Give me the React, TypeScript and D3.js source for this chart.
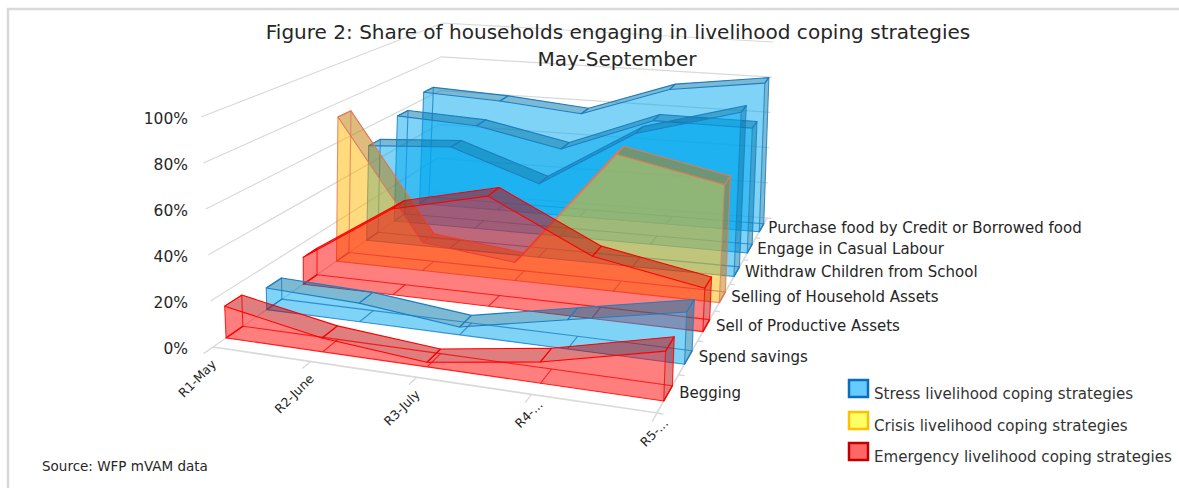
import React from "react";
import * as d3 from "d3";

type Pt = [number, number];

// categories and series, front of the chart first
const categories = ["R1-May", "R2-June", "R3-July", "R4-...", "R5-..."];
const seriesNames = [
  "Begging",
  "Spend savings",
  "Sell of Productive Assets",
  "Selling of Household Assets",
  "Withdraw Children from School",
  "Engage in Casual Labour",
  "Purchase food by Credit or Borrowed food",
];
const yTicks = [0, 20, 40, 60, 80, 100];

// share of households, %
const begging = [14, 6, 2, 9, 21];
const spendSavings = [10, 8.5, 3.5, 13, 23];
const sellProductive = [13, 41, 52, 29, 20];
const sellHousehold = [73, 14, 9, 67, 57];
const withdrawChildren = [50, 53, 38, 68, 83];
const casualLabour = [58, 56, 47, 66, 66];
const purchaseCredit = [64, 62, 58, 75, 82];

const seriesValues = [begging, spendSavings, sellProductive, sellHousehold, withdrawChildren, casualLabour, purchaseCredit];
const seriesGroup = ["emergency", "stress", "emergency", "crisis", "stress", "stress", "stress"];

const groupStyle: any = {
  stress: { fill: "#00a8f0", dark: "#0076a8", stroke: "#1c7fc4" },
  crisis: { fill: "#ffb800", dark: "#bc7c00", stroke: "#e0785a" },
  emergency: { fill: "#ff0000", dark: "#c00000", stroke: "#ff0000" },
};

const legendItems = [
  { label: "Stress livelihood coping strategies", fill: "#66ccff", stroke: "#0a6ebd", y: 380 },
  { label: "Crisis livelihood coping strategies", fill: "#ffff66", stroke: "#ffc000", y: 412 },
  { label: "Emergency livelihood coping strategies", fill: "#ff6666", stroke: "#c00000", y: 443 },
];

// box corners on screen: front-left, front-right, back-right, back-left
const floorCorners: Pt[] = [[213, 347], [657, 413], [767, 218], [436, 192]];
const topCorners: Pt[] = [[201, 117], [665, 172], [773, 42], [443, 23]];

// maps the unit square onto a screen quad (perspective)
function quadMap(q: Pt[]) {
  const [[x0, y0], [x1, y1], [x2, y2], [x3, y3]] = q;
  const dx1 = x1 - x2, dx2 = x3 - x2, sx = x0 - x1 + x2 - x3;
  const dy1 = y1 - y2, dy2 = y3 - y2, sy = y0 - y1 + y2 - y3;
  const den = dx1 * dy2 - dx2 * dy1;
  const g = (sx * dy2 - dx2 * sy) / den;
  const h = (dx1 * sy - sx * dy1) / den;
  const a = x1 - x0 + g * x1, b = x3 - x0 + h * x3;
  const d = y1 - y0 + g * y1, e = y3 - y0 + h * y3;
  return (u: number, v: number): Pt => {
    const w = g * u + h * v + 1;
    return [(a * u + b * v + x0) / w, (d * u + e * v + y0) / w];
  };
}

const floorMap = quadMap(floorCorners);
const topMap = quadMap(topCorners);

const xScale = d3.scalePoint<string>().domain(categories).range([0, 1]);
const zScale = d3.scaleBand<string>().domain(seriesNames).range([0, 1]).paddingInner(0.6).paddingOuter(0.3);
const yScale = d3.scaleLinear().domain([0, 100]).range([0, 1]);

const project = (u: number, v: number, value: number): Pt => {
  const f = floorMap(u, v);
  const t = topMap(u, v);
  const h = yScale(value);
  return [f[0] + (t[0] - f[0]) * h, f[1] + (t[1] - f[1]) * h];
};

const line = d3.line<Pt>();
const poly = (pts: Pt[]) => line(pts) + "Z";
const seg = (a: Pt, b: Pt) => line([a, b]) as string;

const GRID = "#d9d9d9";
const TEXT = "#262626";
const FONT = "'DejaVu Sans', Verdana, sans-serif";

function Series({ name, values, group }: { name: string; values: number[]; group: string }) {
  const st = groupStyle[group];
  const v0 = zScale(name) as number;
  const v1 = v0 + zScale.bandwidth();
  const us = categories.map((c) => xScale(c) as number);
  const last = us.length - 1;
  const front = us.map((u, i) => project(u, v0, values[i]));
  const back = us.map((u, i) => project(u, v1, values[i]));
  const baseF = us.map((u) => project(u, v0, 0));
  const baseB = us.map((u) => project(u, v1, 0));
  const floorPath = poly([...baseF, ...[...baseB].reverse()]);
  const frontPath = poly([...front, ...[...baseF].reverse()]);
  const backPath = poly([...back, ...[...baseB].reverse()]);
  const leftPath = poly([front[0], back[0], baseB[0], baseF[0]]);
  const rightPath = poly([front[last], back[last], baseB[last], baseF[last]]);
  const ribbons = us.slice(1).map((_, i) => poly([front[i], front[i + 1], back[i + 1], back[i]]));
  return (
    <g>
      {/* opaque faces, the whole series fades as one layer */}
      <g opacity={0.5}>
        <path d={floorPath} fill={st.fill} />
        <path d={backPath} fill={st.fill} />
        <path d={leftPath} fill={st.fill} />
        {ribbons.map((d, i) => (
          <path key={i} d={d} fill={st.dark} />
        ))}
        <path d={rightPath} fill={st.dark} />
        <path d={frontPath} fill={st.fill} />
      </g>
      {/* edges stay visible through the faces */}
      <g fill="none" stroke={st.stroke} strokeWidth={1.1} strokeLinejoin="round">
        <path d={floorPath} strokeOpacity={0.8} />
        {us.map((_, i) => (
          <path key={i} d={seg(baseF[i], baseB[i])} strokeOpacity={0.8} />
        ))}
        <path d={leftPath} strokeOpacity={0.8} />
        <path d={rightPath} strokeOpacity={0.8} />
        {ribbons.map((d, i) => (
          <path key={i} d={d} />
        ))}
      </g>
    </g>
  );
}

export default function App() {
  const zEdges = d3.range(seriesNames.length + 1).map((i) => i / seriesNames.length);
  return (
    <svg
      width={1179}
      height={488}
      style={{ position: "absolute", left: 0, top: 0, background: "#fff" }}
      fontFamily={FONT}
    >
      <path d="M8,488V9H1179" fill="none" stroke={GRID} strokeWidth={2.5} />

      {/* walls */}
      {yTicks.map((t) => (
        <g key={t} fill="none" stroke={GRID} strokeWidth={1.2}>
          <path d={line([project(0, 0, t), project(0, 1, t), project(1, 1, t)]) as string} />
        </g>
      ))}
      {/* floor edges and ticks */}
      <path d={line([project(0, 0, 0), project(1, 0, 0), project(1, 1, 0)]) as string} fill="none" stroke={GRID} strokeWidth={1.6} />
      {categories.map((c) => {
        const u = xScale(c) as number;
        return <path key={c} d={seg(project(u, 0, 0), project(u, -0.03, 0))} stroke={GRID} strokeWidth={1.4} />;
      })}
      {zEdges.map((v) => (
        <path key={v} d={seg(project(1, v, 0), project(1.012, v, 0))} stroke={GRID} strokeWidth={1.4} />
      ))}

      {/* series, back to front */}
      {seriesNames
        .map((name, i) => <Series key={name} name={name} values={seriesValues[i]} group={seriesGroup[i]} />)
        .reverse()}

      {/* axis labels */}
      {yTicks.map((t) => {
        const p = project(0, 0, t);
        return (
          <text key={t} x={188} y={p[1] + 6.5} textAnchor="end" fontSize={15.5} fill={TEXT}>
            {t}%
          </text>
        );
      })}
      {categories.map((c) => {
        const p = project(xScale(c) as number, 0, 0);
        // the truncated labels sit further along their slant
        const cut = c.endsWith("...");
        return (
          <text
            key={c}
            transform={`translate(${p[0] + (cut ? 12 : 4)},${p[1] + (cut ? 11 : 18)}) rotate(-45)`}
            textAnchor="end"
            fontSize={12.5}
            fill={TEXT}
          >
            {c}
          </text>
        );
      })}
      {seriesNames.map((name) => {
        const v = (zScale(name) as number) + zScale.bandwidth() / 2;
        const p = project(1, v, 0);
        return (
          <text key={name} x={p[0] + 11.5 - 5 * v} y={p[1] + 5} fontSize={15} fill={TEXT}>
            {name}
          </text>
        );
      })}

      {/* title */}
      <text x={618} y={39} textAnchor="middle" fontSize={20.05} fill={TEXT}>
        Figure 2: Share of households engaging in livelihood coping strategies
      </text>
      <text x={617} y={66} textAnchor="middle" fontSize={20.05} fill={TEXT}>
        May-September
      </text>

      {/* legend */}
      {legendItems.map((d) => (
        <g key={d.label}>
          <rect x={849} y={d.y} width={19} height={17} fill={d.fill} stroke={d.stroke} strokeWidth={2.5} />
          <text x={874} y={d.y + 19} fontSize={15.1} fill="#333">
            {d.label}
          </text>
        </g>
      ))}

      <text x={42} y={471} fontSize={13.5} fill={TEXT}>
        Source: WFP mVAM data
      </text>
    </svg>
  );
}
